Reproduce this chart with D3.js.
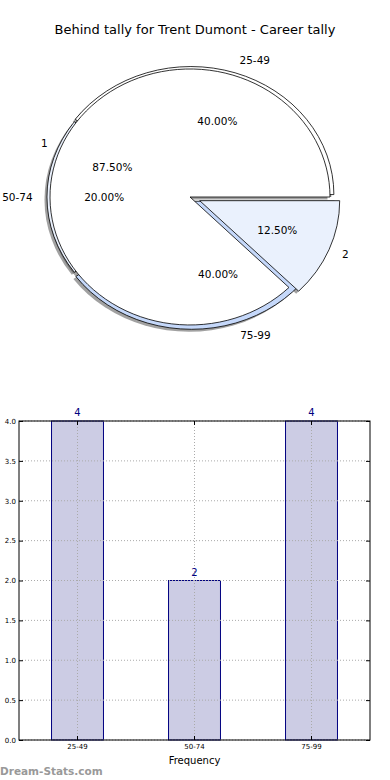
<!DOCTYPE html>
<html>
<head>
<meta charset="utf-8">
<script src="https://cdn.jsdelivr.net/npm/d3@7"></script>
<style>
  body { margin: 0; background: #fff; }
  svg { display: block; font-family: "DejaVu Sans", sans-serif; }
</style>
</head>
<body>
<script>
// pie data
const binLabels = ["25-49", "50-74", "75-99"];
const binValues = [4, 2, 4];
const binColors = ["#ffffff", "#eaf1fd", "#c5d8fa"];
const tallyLabels = ["1", "2"];
const tallyValues = [7, 1];
const tallyColors = ["#ffffff", "#eaf1fd"];

// bar data
const barCats = ["25-49", "50-74", "75-99"];
const barVals = [4, 2, 4];
const yTicks = [0, 0.5, 1, 1.5, 2, 2.5, 3, 3.5, 4];

const width = 390, height = 780;
const svg = d3.select("body").append("svg")
  .attr("width", width).attr("height", height);

svg.append("text")
  .attr("x", 195).attr("y", 34)
  .attr("text-anchor", "middle")
  .attr("font-size", 13)
  .text("Behind tally for Trent Dumont - Career tally");

// ---- pies (elliptic, like matplotlib without equal aspect)
const cx = 190, cy = 197;

// matplotlib starts at 3 o'clock and runs counter-clockwise
const pie = d3.pie().sort(null).startAngle(Math.PI / 2).endAngle(Math.PI / 2 - 2 * Math.PI);
const unitArc = d3.arc().innerRadius(0).outerRadius(1);

function layers(values, labels, colors, rx, ry, explode) {
  return pie(values).map((d, i) => {
    const mid = (d.startAngle + d.endAngle) / 2;   // d3 angle, 0 = up, clockwise
    const ux = Math.sin(mid), uy = -Math.cos(mid);
    return {
      d, label: labels[i], color: colors[i], rx, ry,
      ux, uy,
      dx: explode[i] * ux * rx, dy: explode[i] * uy * ry,
      pct: values[i] / d3.sum(values) * 100
    };
  });
}

const pieA = layers(binValues, binLabels, binColors, 143, 128, [0.02, 0, 0.035]);
const pieB = layers(tallyValues, tallyLabels, tallyColors, 140, 128, [0, 0.075]);

const gPie = svg.append("g");

function drawWedges(data, shadow) {
  gPie.append("g").selectAll("path")
    .data(data)
    .join("path")
    .attr("transform", w => `translate(${cx + w.dx + (shadow ? -2.5 : 0)},${cy + w.dy + (shadow ? 2.5 : 0)}) scale(${w.rx},${w.ry})`)
    .attr("d", w => unitArc(w.d))
    .attr("vector-effect", "non-scaling-stroke")
    .attr("fill", w => shadow ? "#444" : w.color)
    .attr("fill-opacity", shadow ? 0.5 : 1)
    .attr("stroke", shadow ? "none" : "#000")
    .attr("stroke-width", 0.8);
}

// shadows sit under every wedge, as in matplotlib
drawWedges(pieA, true);
drawWedges(pieB, true);
drawWedges(pieA, false);
drawWedges(pieB, false);

function drawTexts(data) {
  const g = gPie.append("g").attr("font-size", 10.5);
  g.selectAll("text.lab")
    .data(data)
    .join("text")
    .attr("x", w => cx + w.dx + 1.1 * w.ux * w.rx)
    .attr("y", w => cy + w.dy + 1.1 * w.uy * w.ry)
    .attr("dy", "0.35em")
    .attr("text-anchor", w => w.ux > 0.01 ? "start" : "end")
    .text(w => w.label);
  g.selectAll("text.pct")
    .data(data)
    .join("text")
    .attr("x", w => cx + w.dx + 0.6 * w.ux * w.rx)
    .attr("y", w => cy + w.dy + 0.6 * w.uy * w.ry)
    .attr("dy", "0.35em")
    .attr("text-anchor", "middle")
    .text(w => w.pct.toFixed(2) + "%");
}
drawTexts(pieA);
drawTexts(pieB);

// ---- bar chart
const m = {left: 19, right: 370, top: 421, bottom: 740};

const x = d3.scaleBand()
  .domain(barCats)
  .range([m.left, m.right])
  .paddingInner(0.556)
  .paddingOuter(0.278);
const y = d3.scaleLinear().domain([0, 4]).range([m.bottom, m.top]);

const gBar = svg.append("g");

// bars
gBar.append("g").selectAll("rect")
  .data(barVals)
  .join("rect")
  .attr("x", (d, i) => x(barCats[i]))
  .attr("y", d => y(d))
  .attr("width", x.bandwidth())
  .attr("height", d => y(0) - y(d))
  .attr("fill", "#ccccE4")
  .attr("stroke", "#000080")
  .attr("stroke-width", 1);

// dotted grid on top of the bars
gBar.append("g").selectAll("line")
  .data(barCats)
  .join("line")
  .attr("x1", d => x(d) + x.bandwidth() / 2).attr("x2", d => x(d) + x.bandwidth() / 2)
  .attr("y1", m.top).attr("y2", m.bottom)
  .attr("stroke", "#aaa").attr("stroke-dasharray", "1,2");
gBar.append("g").selectAll("line")
  .data(yTicks)
  .join("line")
  .attr("x1", m.left).attr("x2", m.right)
  .attr("y1", d => y(d)).attr("y2", d => y(d))
  .attr("stroke", "#aaa").attr("stroke-dasharray", "1,2");

// value labels
gBar.append("g").selectAll("text")
  .data(barVals)
  .join("text")
  .attr("x", (d, i) => x(barCats[i]) + x.bandwidth() / 2)
  .attr("y", d => y(d) - 5)
  .attr("text-anchor", "middle")
  .attr("font-size", 10)
  .attr("fill", "#000080")
  .text(d => d);

// axes
gBar.append("g")
  .attr("transform", `translate(${m.left},0)`)
  .call(d3.axisLeft(y).tickValues(yTicks).tickFormat(d3.format(".1f")).tickSizeInner(-4).tickSizeOuter(0).tickPadding(3));
gBar.append("g")
  .attr("transform", `translate(${m.right},0)`)
  .call(d3.axisRight(y).tickValues(yTicks).tickFormat("").tickSizeInner(-4).tickSizeOuter(0));
gBar.append("g")
  .attr("transform", `translate(0,${m.bottom})`)
  .call(d3.axisBottom(x).tickSizeInner(-4).tickSizeOuter(0).tickPadding(4));
gBar.append("g")
  .attr("transform", `translate(0,${m.top})`)
  .call(d3.axisTop(x).tickFormat("").tickSizeInner(-4).tickSizeOuter(0));

gBar.selectAll(".domain").remove();
gBar.selectAll(".tick line").attr("stroke", "#000");
gBar.selectAll(".tick text").attr("font-size", 7).attr("font-family", "DejaVu Sans, sans-serif").attr("fill", "#000");

gBar.append("rect")
  .attr("x", m.left).attr("y", m.top)
  .attr("width", m.right - m.left).attr("height", m.bottom - m.top)
  .attr("fill", "none").attr("stroke", "#000").attr("stroke-width", 1);

svg.append("text")
  .attr("x", (m.left + m.right) / 2).attr("y", 764)
  .attr("text-anchor", "middle")
  .attr("font-size", 10)
  .text("Frequency");

svg.append("text")
  .attr("x", 0).attr("y", 775)
  .attr("font-size", 10.5).attr("font-weight", "bold")
  .attr("fill", "#999")
  .text("Dream-Stats.com");
</script>
</body>
</html>
